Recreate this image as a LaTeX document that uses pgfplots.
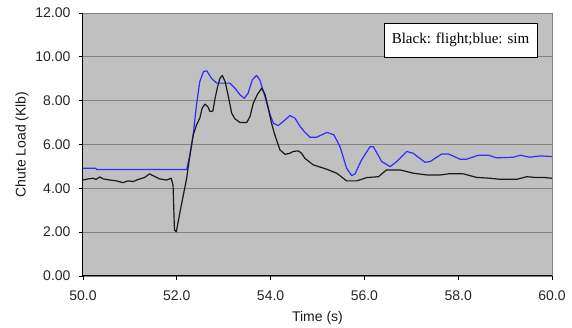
\documentclass[border=0pt]{standalone}
\usepackage{fontspec}
\setmainfont{Liberation Sans}
\newfontfamily\legfont{Liberation Serif}
\usepackage{pgfplots}
\pgfplotsset{compat=1.18}
\definecolor{bggray}{RGB}{192,192,192}
\definecolor{gridgray}{RGB}{128,128,128}
\definecolor{simblue}{RGB}{45,45,255}
\definecolor{flightblack}{RGB}{25,25,25}

\pgfplotstableread{
t v
50.00 4.92
50.27 4.92
50.29 4.86
52.17 4.86
52.21 4.86
52.28 5.52
52.35 6.44
52.42 7.81
52.49 8.87
52.57 9.33
52.64 9.36
52.74 9.02
52.85 8.80
52.99 8.80
53.13 8.80
53.24 8.57
53.35 8.26
53.44 8.11
53.52 8.34
53.61 8.95
53.70 9.15
53.77 8.95
53.88 8.19
53.99 7.35
54.06 6.97
54.16 6.86
54.27 7.05
54.41 7.32
54.52 7.20
54.63 6.82
54.73 6.56
54.84 6.33
54.98 6.33
55.20 6.55
55.35 6.44
55.48 5.90
55.62 4.92
55.73 4.58
55.80 4.66
55.94 5.30
56.12 5.90
56.19 5.90
56.37 5.22
56.55 4.99
56.69 5.22
56.90 5.68
57.04 5.60
57.29 5.19
57.40 5.22
57.65 5.57
57.79 5.57
58.04 5.33
58.18 5.33
58.43 5.51
58.65 5.51
58.82 5.39
59.18 5.42
59.32 5.51
59.53 5.42
59.75 5.48
60.00 5.45
}\simdata

\pgfplotstableread{
t v
50.00 4.38
50.11 4.43
50.21 4.46
50.28 4.41
50.36 4.52
50.43 4.43
50.57 4.38
50.71 4.34
50.85 4.26
50.96 4.34
51.07 4.31
51.17 4.40
51.31 4.49
51.42 4.66
51.53 4.54
51.63 4.43
51.78 4.38
51.88 4.46
51.92 4.15
51.95 2.10
51.99 2.02
52.07 2.94
52.14 3.70
52.21 4.46
52.28 5.52
52.35 6.44
52.42 6.89
52.49 7.20
52.54 7.65
52.60 7.84
52.66 7.73
52.71 7.50
52.77 7.53
52.81 8.04
52.87 8.64
52.92 9.02
52.97 9.15
53.03 8.87
53.10 8.19
53.17 7.43
53.24 7.17
53.35 7.00
53.49 7.00
53.56 7.27
53.63 7.88
53.72 8.29
53.81 8.57
53.88 8.29
53.95 7.65
54.02 6.97
54.09 6.44
54.20 5.75
54.31 5.55
54.41 5.60
54.48 5.68
54.59 5.71
54.66 5.60
54.73 5.37
54.91 5.07
55.20 4.87
55.41 4.69
55.62 4.34
55.84 4.34
56.05 4.49
56.30 4.53
56.47 4.84
56.76 4.84
57.04 4.69
57.33 4.61
57.62 4.61
57.83 4.67
58.11 4.66
58.39 4.50
58.68 4.46
58.90 4.41
59.25 4.41
59.46 4.53
59.68 4.49
59.85 4.49
60.00 4.46
}\flightdata

\begin{document}
\begin{tikzpicture}
\useasboundingbox (-83pt,-52pt) rectangle (489pt,276pt);
\begin{axis}[
  at={(0pt,0pt)}, anchor=south west,
  scale only axis, width=469pt, height=263pt,
  xmin=50, xmax=60, ymin=0, ymax=12,
  xtick={50,52,...,60}, ytick={0,2,...,12},
  axis x line*=bottom, axis y line*=left,
  axis line style={black, line width=1pt, -},
  axis background/.style={fill=bggray},
  ymajorgrids, grid style={gridgray, line width=0.9pt},
  tick align=outside, major tick length=4pt,
  tick style={black, line width=0.9pt},
  ticklabel style={font=\fontsize{14}{16.8}\selectfont, text=black!85},
  xticklabel style={/pgf/number format/fixed, /pgf/number format/fixed zerofill, /pgf/number format/precision=1, yshift=-7pt},
  yticklabel style={/pgf/number format/fixed, /pgf/number format/fixed zerofill, /pgf/number format/precision=2, xshift=-5pt},
  /pgf/number format/assume math mode=true,
  xlabel={Time (s)}, ylabel={Chute Load (Klb)},
  label style={font=\fontsize{14}{16.8}\selectfont, text=black!90},
  xlabel style={at={(axis description cs:0.5,0)}, anchor=center, yshift=-42pt},
  ylabel style={at={(axis description cs:0,0.5)}, anchor=center, rotate=0, yshift=61pt},
  clip=false,
]
\addplot[simblue, line width=1.2pt, line join=round] table[x=t, y=v] {\simdata};
\addplot[flightblack, line width=1.2pt, line join=round] table[x=t, y=v] {\flightdata};
\draw[gridgray, line width=0.9pt] (rel axis cs:1,0) -- (rel axis cs:1,1);
\node[draw=black, fill=white, line width=0.9pt, minimum width=153pt, minimum height=34pt, inner sep=0pt, font=\legfont\fontsize{15}{18}\selectfont] at (rel axis cs:0.805,0.897) {Black: flight;blue: sim};
\end{axis}
\end{tikzpicture}
\end{document}
